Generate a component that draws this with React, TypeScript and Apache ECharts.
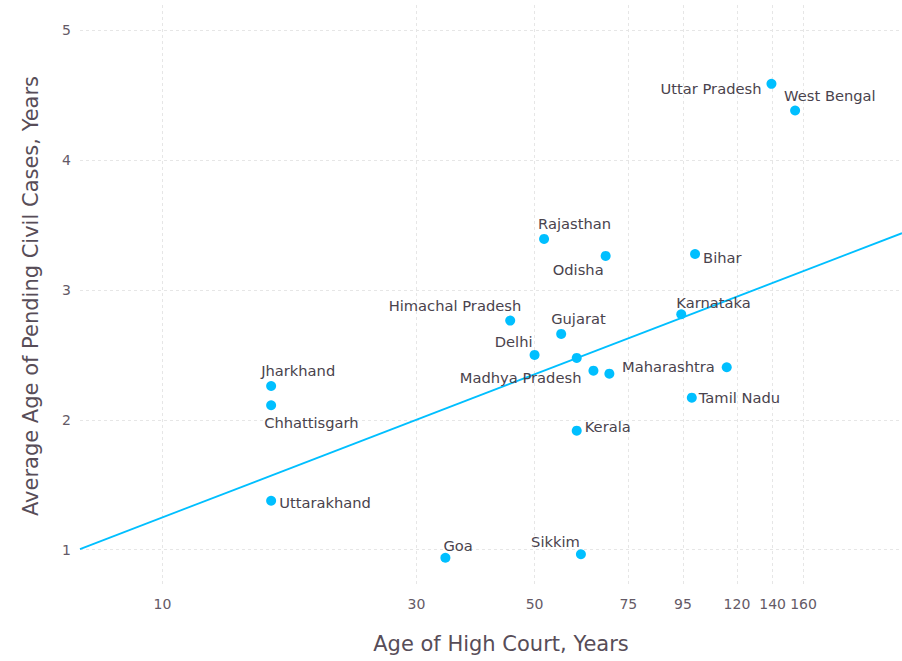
import React, { useEffect, useRef } from "react";
import * as echarts from "echarts";

// ---- data ----
const states = [
  "Uttar Pradesh", "West Bengal", "Rajasthan", "Odisha", "Bihar", "Karnataka",
  "Himachal Pradesh", "Gujarat", "Delhi", "", "Madhya Pradesh", "", "Maharashtra",
  "Tamil Nadu", "Kerala", "Sikkim", "Goa", "Jharkhand", "Chhattisgarh", "Uttarakhand",
];
const courtAge = [
  139.3, 154.3, 52.1, 68.0, 100.1, 94.3,
  45.0, 56.1, 50.0, 60.0, 64.5, 69.1, 114.8,
  98.7, 60.0, 61.1, 34.0, 16.0, 16.0, 16.0,
];
const pendingAge = [
  4.585, 4.38, 3.392, 3.261, 3.276, 2.812,
  2.763, 2.661, 2.499, 2.476, 2.378, 2.355, 2.404,
  2.17, 1.916, 0.965, 0.938, 2.26, 2.112, 1.377,
];
const fitX = [7, 245];
const fitY = [1.005, 3.436];
const xTicks = [10, 30, 50, 75, 95, 120, 140, 160];
const yTicks = [1, 2, 3, 4, 5];

// ---- label placement (style) : [align, dx, dy] relative to dot centre ----
const labelPlace: Record<string, [string, number, number]> = {
  "Uttar Pradesh": ["right", -10, 5],
  "West Bengal": ["left", -11, -15],
  "Rajasthan": ["left", -6, -15],
  "Odisha": ["right", -2, 14],
  "Bihar": ["left", 8, 4],
  "Karnataka": ["left", -5, -12],
  "Himachal Pradesh": ["right", 11, -15],
  "Gujarat": ["left", -10, -15],
  "Delhi": ["right", -2, -13],
  "Madhya Pradesh": ["right", -12, 7],
  "Maharashtra": ["right", -12, -1],
  "Tamil Nadu": ["left", 7, 0],
  "Kerala": ["left", 8, -4],
  "Sikkim": ["right", -1, -13],
  "Goa": ["left", -2, -12],
  "Jharkhand": ["left", -10, -15],
  "Chhattisgarh": ["left", -7, 17],
  "Uttarakhand": ["left", 8, 2],
};

const BLUE = "#00bfff";
const FONT = "DejaVu Sans";
const DOT = 10;

export default function App() {
  const ref = useRef<HTMLDivElement>(null);
  useEffect(() => {
    document.body.style.margin = "0";
    const chart = echarts.init(ref.current!, undefined, { renderer: "svg" });
    const points = states.map((name, i) => {
      const p = labelPlace[name];
      return {
        name,
        value: [courtAge[i], pendingAge[i]],
        label: p
          ? {
              show: true,
              position: [DOT / 2 + p[1], DOT / 2 + p[2]],
              align: p[0],
              verticalAlign: "middle",
              formatter: name,
            }
          : { show: false },
      };
    });
    chart.setOption({
      animation: false,
      backgroundColor: "#ffffff",
      textStyle: { fontFamily: FONT },
      grid: { left: 80, right: 0, top: 5, bottom: 74, containLabel: false },
      xAxis: {
        type: "log",
        logBase: 10,
        min: fitX[0],
        max: fitX[1],
        name: "Age of High Court, Years",
        nameLocation: "middle",
        nameGap: 46,
        nameTextStyle: { fontSize: 21, color: "#574d58", fontFamily: FONT, padding: [0, 0, 0, 20] },
        axisLine: { show: false },
        axisTick: { show: false, customValues: xTicks },
        axisLabel: {
          customValues: xTicks,
          margin: 10,
          fontSize: 14,
          color: "#645a66",
          fontFamily: FONT,
          formatter: (v: number) => String(Math.round(v)),
        },
        splitLine: { show: true, lineStyle: { color: "#e6e6e6", type: [3, 3], width: 1 } },
        minorSplitLine: { show: false },
      },
      yAxis: {
        type: "value",
        min: 0.713,
        max: 5.192,
        name: "Average Age of Pending Civil Cases, Years",
        nameLocation: "middle",
        nameGap: 39,
        nameTextStyle: { fontSize: 21, color: "#574d58", fontFamily: FONT },
        axisLine: { show: false },
        axisTick: { show: false, customValues: yTicks },
        axisLabel: {
          customValues: yTicks,
          margin: 9,
          fontSize: 14,
          color: "#645a66",
          fontFamily: FONT,
        },
        splitLine: { show: true, lineStyle: { color: "#e6e6e6", type: [3, 3], width: 1 } },
      },
      series: [
        {
          type: "line",
          data: fitX.map((x, i) => [x, fitY[i]]),
          showSymbol: false,
          symbol: "none",
          lineStyle: { color: BLUE, width: 1.8 },
          z: 2,
          silent: true,
        },
        {
          type: "scatter",
          data: points,
          symbol: "circle",
          symbolSize: DOT,
          itemStyle: { color: BLUE, opacity: 1 },
          label: { fontSize: 14.7, color: "#4a434d", fontFamily: FONT },
          labelLayout: { hideOverlap: false },
          z: 3,
        },
      ],
    });
    return () => chart.dispose();
  }, []);
  return <div ref={ref} style={{ width: 902, height: 661 }} />;
}
